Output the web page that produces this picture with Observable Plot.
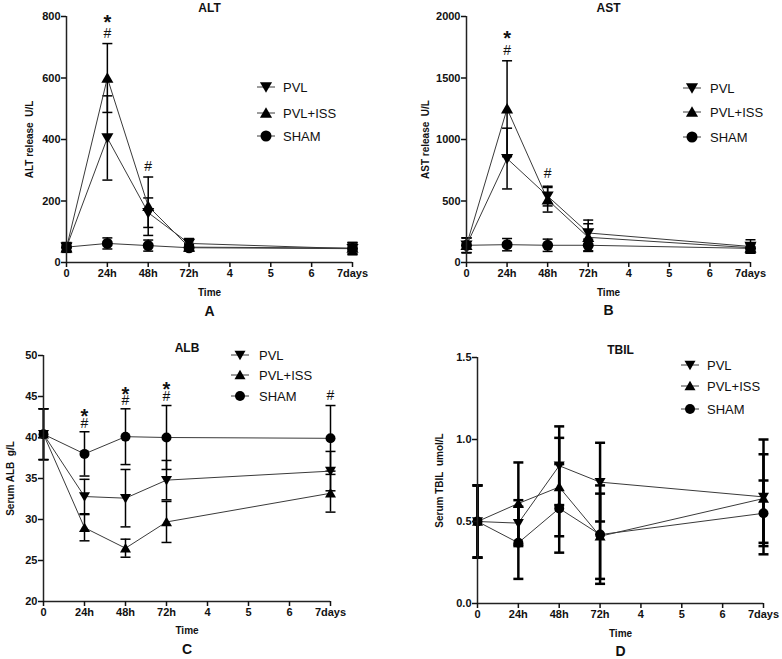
<!DOCTYPE html>
<html><head><meta charset="utf-8">
<script src="https://cdn.jsdelivr.net/npm/d3@7"></script>
<script src="https://cdn.jsdelivr.net/npm/@observablehq/plot@0.6"></script>
<style>
body{margin:0;background:#fff;font-family:"Liberation Sans",Arial,sans-serif;}
#wrap{position:relative;width:782px;height:659px;overflow:hidden;background:#fff;}
.panel{position:absolute;}
</style></head><body><div id="wrap"></div>
<script>
// ---- shared axes ----
const times = [0, 1, 2, 3, 7];
const xTickValues = [0, 1, 2, 3, 4, 5, 6, 7];
const xTickLabels = ["0", "24h", "48h", "72h", "4", "5", "6", "7days"];
const seriesNames = ["PVL", "PVL+ISS", "SHAM"];

// ---- ALT (U/L) ----
const altPVL = [50, 405, 162, 62, 45];
const altPVLerr = [15, 137, 48, 16, 18];
const altISS = [48, 600, 183, 50, 47];
const altISSerr = [15, 112, 95, 12, 18];
const altSHAM = [50, 62, 55, 48, 45];
const altSHAMerr = [12, 18, 18, 10, 20];
const altYTicks = [0, 200, 400, 600, 800];
const altStars = [{t: 1, v: 797}];
const altHashes = [{t: 1, v: 745}, {t: 2, v: 312}];

// ---- AST (U/L) ----
const astPVL = [140, 845, 540, 240, 130];
const astPVLerr = [60, 247, 80, 105, 55];
const astISS = [140, 1250, 510, 205, 120];
const astISSerr = [60, 390, 100, 110, 40];
const astSHAM = [140, 145, 140, 140, 115];
const astSHAMerr = [60, 50, 50, 50, 35];
const astYTicks = [0, 500, 1000, 1500, 2000];
const astStars = [{t: 1, v: 1865}];
const astHashes = [{t: 1, v: 1723}, {t: 2, v: 723}];

// ---- ALB (g/L) ----
const albPVL = [40.4, 32.8, 32.6, 34.8, 35.9];
const albPVLerr = [3.1, 2.1, 3.5, 2.4, 2.4];
const albISS = [40.4, 29.0, 26.5, 29.7, 33.2];
const albISSerr = [3.1, 1.6, 1.1, 2.5, 2.3];
const albSHAM = [40.4, 38.0, 40.1, 40.0, 39.9];
const albSHAMerr = [3.1, 2.7, 3.4, 3.9, 4.0];
const albYTicks = [20, 25, 30, 35, 40, 45, 50];
const albStars = [{t: 1, v: 43.2}, {t: 2, v: 45.8}, {t: 3, v: 46.4}];
const albHashes = [{t: 1, v: 41.7}, {t: 2, v: 44.5}, {t: 3, v: 45.0}, {t: 7, v: 45.1}];

// ---- TBIL (umol/L) ----
const tbPVL = [0.50, 0.49, 0.84, 0.74, 0.65];
const tbPVLerr = [0.22, 0.14, 0.24, 0.24, 0.35];
const tbISS = [0.50, 0.61, 0.71, 0.41, 0.64];
const tbISSerr = [0.22, 0.25, 0.30, 0.26, 0.27];
const tbSHAM = [0.50, 0.37, 0.58, 0.42, 0.55];
const tbSHAMerr = [0.22, 0.22, 0.27, 0.30, 0.20];
const tbYTicks = [0, 0.5, 1.0, 1.5];

// ---- symbols ----
const triUp = {draw(ctx, size) { const r = Math.sqrt(size / Math.PI);
  ctx.moveTo(0, -r * 1.05); ctx.lineTo(r * 1.1, r * 0.85); ctx.lineTo(-r * 1.1, r * 0.85); ctx.closePath(); }};
const triDown = {draw(ctx, size) { const r = Math.sqrt(size / Math.PI);
  ctx.moveTo(0, r * 1.05); ctx.lineTo(r * 1.1, -r * 0.85); ctx.lineTo(-r * 1.1, -r * 0.85); ctx.closePath(); }};
const capSym = {draw(ctx, size) { const r = Math.sqrt(size / Math.PI);
  ctx.moveTo(-r, 0); ctx.lineTo(r, 0); }};
const symbols = {"PVL": triDown, "PVL+ISS": triUp, "SHAM": "circle"};

function rows(vals, errs, name) {
  return times.map((t, i) => ({series: name, t, v: vals[i], lo: vals[i] - errs[i], hi: vals[i] + errs[i]}));
}

const wrap = document.getElementById("wrap");

function panel(cfg) {
  const data = [
    ...rows(cfg.pvl, cfg.pvlErr, "PVL"),
    ...rows(cfg.iss, cfg.issErr, "PVL+ISS"),
    ...rows(cfg.sham, cfg.shamErr, "SHAM")
  ];
  const bw = cfg.barWidth;
  const marks = [
    Plot.ruleX(data, {x: "t", y1: "lo", y2: "hi", stroke: "#000", strokeWidth: bw}),
    Plot.dot(data, {x: "t", y: "hi", symbol: capSym, r: cfg.cap, fill: "none", stroke: "#000", strokeWidth: bw}),
    Plot.dot(data, {x: "t", y: "lo", symbol: capSym, r: cfg.cap, fill: "none", stroke: "#000", strokeWidth: bw}),
    Plot.line(data, {x: "t", y: "v", z: "series", stroke: "#3a3a3a", strokeWidth: 1}),
    ...seriesNames.map(n => Plot.dot(data.filter(d => d.series === n),
      {x: "t", y: "v", symbol: symbols[n], r: cfg.r, fill: "#000", stroke: "none"})),
    Plot.ruleX([0], {stroke: "#222", strokeWidth: 1.5}),
    Plot.ruleY([cfg.yDomain[0]], {stroke: "#222", strokeWidth: 1.5}),
    Plot.axisX({ticks: xTickValues, tickFormat: d => xTickLabels[d], tickSize: 5, tickPadding: 2,
      label: null, strokeWidth: 1.5, fontWeight: "bold"}),
    Plot.axisY({ticks: cfg.yTicks, tickFormat: cfg.yFormat, tickSize: 5, tickPadding: 1,
      label: null, strokeWidth: 1.5, fontWeight: "bold"}),
    Plot.text([cfg.title], {frameAnchor: "top", lineAnchor: "middle", dy: cfg.titleDy, fontWeight: "bold", fontSize: 12}),
    Plot.text(["Time"], {frameAnchor: "bottom", lineAnchor: "middle", dy: cfg.timeDy, fontWeight: "bold", fontSize: 10}),
    Plot.text([cfg.letter], {frameAnchor: "bottom", lineAnchor: "middle", dy: cfg.letterDy, fontWeight: "bold", fontSize: 14}),
    Plot.text([cfg.ylabel], {frameAnchor: "left", textAnchor: "middle", lineAnchor: "middle",
      dx: -cfg.ylabelOff, rotate: -90, fontWeight: "bold", fontSize: 10})
  ];
  if (cfg.stars) marks.push(Plot.text(cfg.stars, {x: "t", y: "v", text: () => "*", fontWeight: "bold", fontSize: 20, dy: 5}));
  if (cfg.hashes) marks.push(Plot.text(cfg.hashes, {x: "t", y: "v", text: () => "#", fontSize: 14}));
  const chart = Plot.plot({
    width: cfg.width, height: cfg.height,
    marginTop: cfg.m[0], marginRight: cfg.m[1], marginBottom: cfg.m[2], marginLeft: cfg.m[3],
    x: {domain: [0, 7]},
    y: {domain: cfg.yDomain},
    style: {fontFamily: "'Liberation Sans', Arial, sans-serif", fontSize: "11px", color: "#111", background: "#fff"},
    marks
  });
  const div = document.createElement("div");
  div.className = "panel";
  div.style.left = cfg.left + "px";
  div.style.top = cfg.top + "px";
  div.appendChild(chart);
  wrap.appendChild(div);

  // legend
  const lg = d3.select(wrap).append("svg").attr("class", "panel")
    .style("left", "0px").style("top", "0px").attr("width", 782).attr("height", 659)
    .style("pointer-events", "none");
  seriesNames.forEach((n, i) => {
    const y = cfg.legend.ys[i], mx = cfg.legend.mx;
    lg.append("line").attr("x1", mx - 9).attr("x2", mx + 9).attr("y1", y).attr("y2", y)
      .attr("stroke", "#3a3a3a").attr("stroke-width", 1);
    const sym = symbols[n] === "circle" ? d3.symbolCircle : symbols[n];
    lg.append("path").attr("transform", `translate(${mx},${y})`)
      .attr("d", d3.symbol(sym, Math.PI * cfg.r * cfg.r)()).attr("fill", "#000");
    lg.append("text").attr("x", cfg.legend.tx).attr("y", y).attr("dy", "0.35em")
      .attr("font-size", 13).attr("font-family", "'Liberation Sans', Arial, sans-serif").attr("fill", "#111").text(n);
  });
}

panel({title: "ALT", letter: "A", ylabel: "ALT release\u00a0\u00a0U/L",
  pvl: altPVL, pvlErr: altPVLerr, iss: altISS, issErr: altISSerr, sham: altSHAM, shamErr: altSHAMerr,
  yDomain: [0, 800], yTicks: altYTicks, yFormat: d3.format("d"), stars: altStars, hashes: altHashes,
  left: 0, top: 0, width: 391, height: 330, m: [16, 39, 68, 66],
  titleDy: -8, timeDy: 30, letterDy: 49, ylabelOff: 37, r: 5.5, cap: 5, barWidth: 1.5,
  legend: {mx: 266, tx: 283, ys: [87, 113, 136]}});

panel({title: "AST", letter: "B", ylabel: "AST release\u00a0\u00a0U/L",
  pvl: astPVL, pvlErr: astPVLerr, iss: astISS, issErr: astISSerr, sham: astSHAM, shamErr: astSHAMerr,
  yDomain: [0, 2000], yTicks: astYTicks, yFormat: d3.format("d"), stars: astStars, hashes: astHashes,
  left: 391, top: 0, width: 391, height: 330, m: [16, 32, 68, 75],
  titleDy: -8, timeDy: 30, letterDy: 48, ylabelOff: 41, r: 5.5, cap: 5, barWidth: 1.5,
  legend: {mx: 692, tx: 710, ys: [88, 112, 137]}});

panel({title: "ALB", letter: "C", ylabel: "Serum ALB\u00a0\u00a0g/L",
  pvl: albPVL, pvlErr: albPVLerr, iss: albISS, issErr: albISSerr, sham: albSHAM, shamErr: albSHAMerr,
  yDomain: [20, 50], yTicks: albYTicks, yFormat: d3.format("d"), stars: albStars, hashes: albHashes,
  left: 0, top: 330, width: 391, height: 329, m: [25, 61, 58, 43],
  titleDy: -7, timeDy: 29, letterDy: 48, ylabelOff: 33, r: 5, cap: 5, barWidth: 1.5,
  legend: {mx: 240, tx: 259, ys: [355, 375, 396]}});

panel({title: "TBIL", letter: "D", ylabel: "Serum TBIL\u00a0\u00a0umol/L",
  pvl: tbPVL, pvlErr: tbPVLerr, iss: tbISS, issErr: tbISSerr, sham: tbSHAM, shamErr: tbSHAMerr,
  yDomain: [0, 1.5], yTicks: tbYTicks, yFormat: d3.format(".1f"), stars: null, hashes: null,
  left: 391, top: 330, width: 391, height: 329, m: [27, 19, 56, 86],
  titleDy: -7, timeDy: 30, letterDy: 48, ylabelOff: 38, r: 5, cap: 5, barWidth: 2.5,
  legend: {mx: 690, tx: 707, ys: [365, 386, 409]}});
</script></body></html>
